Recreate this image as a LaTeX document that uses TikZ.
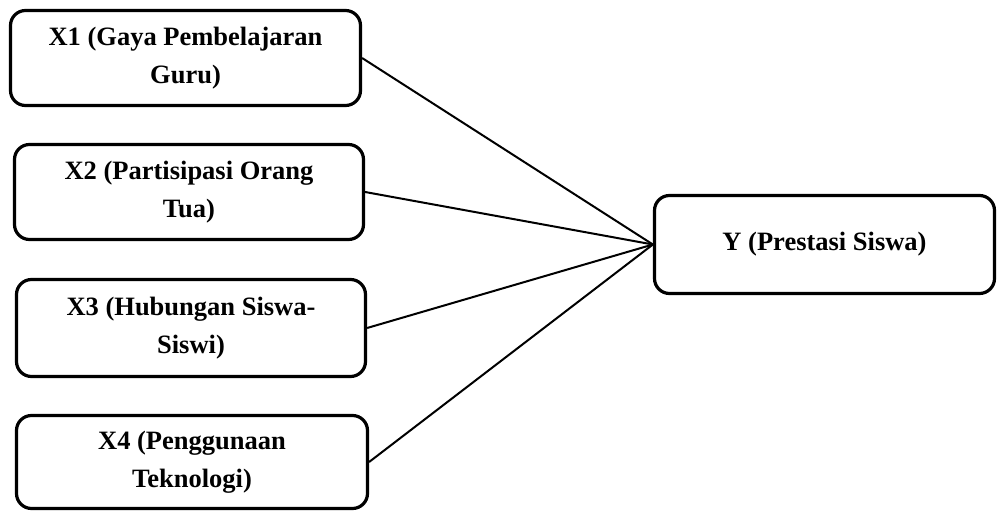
\documentclass[tikz,border=0pt]{standalone}
\usepackage{fontspec}
\setmainfont{Liberation Serif}
\begin{document}
\begin{tikzpicture}[x=1pt,y=-1pt,
  varbox/.style={draw=black, line width=3.2pt, rounded corners=15pt, fill=white,
    align=center, inner sep=0pt,
    font=\fontsize{26.5}{38}\selectfont\bfseries},
  link/.style={draw=black, line width=2pt}]
\useasboundingbox (0,0) rectangle (998,513);
\node[varbox, minimum width=350pt, minimum height=95pt] (x1) at (185.5,58) {X1 (Gaya Pembelajaran\\Guru)};
\node[varbox, minimum width=349pt, minimum height=95pt] (x2) at (189,192) {X2 (Partisipasi Orang\\Tua)};
\node[varbox, minimum width=349pt, minimum height=97pt] (x3) at (191,328) {X3 (Hubungan Siswa-\\Siswi)};
\node[varbox, minimum width=351pt, minimum height=93pt] (x4) at (192,462) {X4 (Penggunaan\\Teknologi)};
\node[varbox, minimum width=340pt, minimum height=98pt] (y) at (824.5,244.5) {Y (Prestasi Siswa)};
\draw[link] (x1.east) -- (y.west);
\draw[link] (x2.east) -- (y.west);
\draw[link] (x3.east) -- (y.west);
\draw[link] (x4.east) -- (y.west);
\end{tikzpicture}
\end{document}
